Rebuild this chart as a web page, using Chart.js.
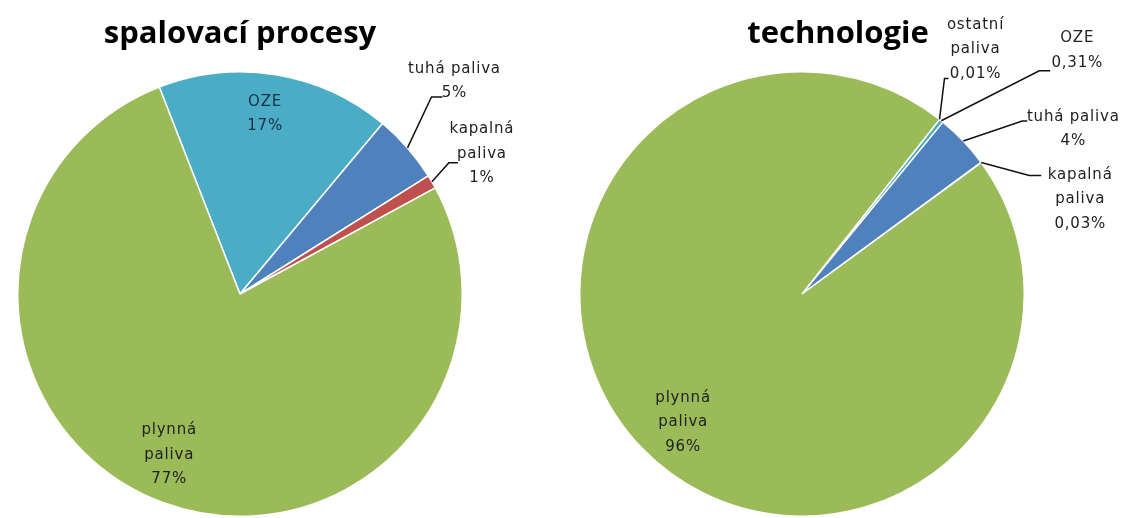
<!DOCTYPE html>
<html lang="cs">
<head>
<meta charset="utf-8">
<title>spalovací procesy / technologie</title>
<script src="https://cdn.jsdelivr.net/npm/chart.js@4/dist/chart.umd.min.js"></script>
<style>
  html, body { margin: 0; padding: 0; background: #ffffff; }
  .wrap { position: relative; width: 1124px; height: 518px; overflow: hidden; }
  .pie  { position: absolute; top: 0; }
  #pieLeft  { left: 0; }
  #pieRight { left: 560px; }
</style>
</head>
<body>
<div class="wrap">
  <canvas id="pieLeft"  class="pie" width="560" height="518"></canvas>
  <canvas id="pieRight" class="pie" width="564" height="518"></canvas>
</div>
<script>
/* ── DATA ── */

const leftTitle      = 'spalovací procesy';
const leftCategories = ['OZE', 'tuhá paliva', 'kapalná paliva', 'plynná paliva'];
const leftValues     = [17, 5, 1, 77];

const rightTitle      = 'technologie';
const rightCategories = ['ostatní paliva', 'OZE', 'tuhá paliva', 'kapalná paliva', 'plynná paliva'];
const rightValues     = [0.01, 0.31, 4, 0.03, 96];

/* ── COLOURS ── */

const COL = {
  oze:     '#4BACC6',
  tuha:    '#4F81BD',
  kapalna: '#C0504D',
  plynna:  '#9BBB59',
  ostatni: '#8064A2'
};

const fmtPct = v => String(v).replace('.', ',') + '%';

/* ── LABEL PLUGIN (title, data labels, leader lines) ── */

const pieLabels = {
  id: 'pieLabels',
  afterDatasetsDraw(chart, args, opts) {
    const ctx  = chart.ctx;
    const meta = chart.getDatasetMeta(0);
    const cats = chart.data.labels;
    const vals = chart.data.datasets[0].data;

    ctx.save();
    ctx.fillStyle    = '#000';
    ctx.textAlign    = 'center';
    ctx.textBaseline = 'alphabetic';
    ctx.font         = 'bold 31px "Open Sans", sans-serif';
    ctx.fillText(opts.title, opts.titleX, opts.titleY);

    ctx.font          = '15px "DejaVu Sans", sans-serif';
    ctx.textBaseline  = 'middle';
    ctx.letterSpacing = '0.8px';

    opts.items.forEach(it => {
      const p   = meta.data[it.index].getProps(['x', 'y', 'startAngle', 'endAngle', 'outerRadius'], true);
      const mid = (p.startAngle + p.endAngle) / 2;
      const r   = it.inside ? p.outerRadius * it.frac : p.outerRadius;
      const ax  = p.x + Math.cos(mid) * r;
      const ay  = p.y + Math.sin(mid) * r;

      if (it.leader) {
        ctx.strokeStyle = '#111';
        ctx.lineWidth   = 1.5;
        ctx.beginPath();
        ctx.moveTo(ax, ay);
        ctx.lineTo(ax + it.leader[0][0], ay + it.leader[0][1]);
        ctx.lineTo(ax + it.leader[1][0], ay + it.leader[1][1]);
        ctx.stroke();
      }

      const name  = cats[it.index];
      const lines = (it.wrap ? name.split(' ') : [name]).concat(fmtPct(vals[it.index]));
      const lh = 24.5;
      const cx = ax + it.dx;
      const cy = ay + it.dy;
      ctx.fillStyle = it.color || '#222';
      lines.forEach((ln, i) => {
        ctx.fillText(ln, cx, cy + (i - (lines.length - 1) / 2) * lh);
      });
    });
    ctx.restore();
  }
};

/* ── SHARED OPTIONS ── */

function pieOpts(rotation, padding, labelOpts) {
  return {
    responsive: false,
    animation: false,
    rotation: rotation,
    layout: { padding: padding },
    plugins: {
      legend:  { display: false },
      tooltip: { enabled: false },
      pieLabels: labelOpts
    }
  };
}

/* ── LEFT: spalovací procesy ── */

new Chart(document.getElementById('pieLeft'), {
  type: 'pie',
  data: {
    labels: leftCategories,
    datasets: [{
      data: leftValues,
      backgroundColor: [COL.oze, COL.tuha, COL.kapalna, COL.plynna],
      borderColor: '#ffffff',
      borderWidth: 1.5
    }]
  },
  options: pieOpts(-21.3, { left: 17, right: 97, top: 71, bottom: 1 }, {
    title: leftTitle, titleX: 240, titleY: 43,
    items: [
      { index: 0, inside: true, frac: 0.81, dx: -4, dy: -2, color: '#1c2e45' },
      { index: 1, dx: 47, dy: -67, leader: [[24, -51], [35, -51]] },
      { index: 2, wrap: true, dx: 50, dy: -28, leader: [[17, -19], [26, -19]] },
      { index: 3, inside: true, wrap: true, frac: 0.77, dx: -12, dy: 0 }
    ]
  }),
  plugins: [pieLabels]
});

/* ── RIGHT: technologie ── */

new Chart(document.getElementById('pieRight'), {
  type: 'pie',
  data: {
    labels: rightCategories,
    datasets: [{
      data: rightValues,
      backgroundColor: [COL.ostatni, COL.oze, COL.tuha, COL.kapalna, COL.plynna],
      borderColor: '#ffffff',
      borderWidth: 1.5
    }]
  },
  options: pieOpts(38.2, { left: 19, right: 99, top: 71, bottom: 1 }, {
    title: rightTitle, titleX: 278, titleY: 43,
    items: [
      { index: 0, wrap: true, dx: 36, dy: -70, leader: [[5, -41], [9, -41]] },
      { index: 1, dx: 136, dy: -70, leader: [[98, -50], [109, -50]] },
      { index: 2, dx: 110, dy: -12, leader: [[59, -20], [64, -20]] },
      { index: 3, wrap: true, dx: 99, dy: 37, leader: [[48, 13], [60, 13]] },
      { index: 4, inside: true, wrap: true, frac: 0.8, dx: 9, dy: 5 }
    ]
  }),
  plugins: [pieLabels]
});
</script>
</body>
</html>
